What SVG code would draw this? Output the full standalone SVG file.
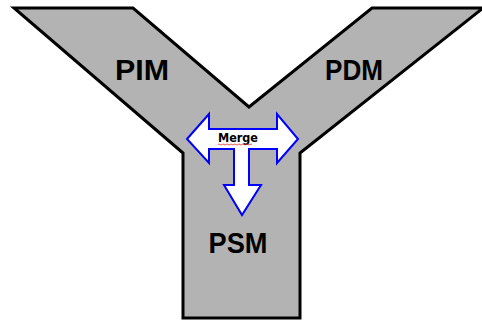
<svg xmlns="http://www.w3.org/2000/svg" width="482" height="320" viewBox="0 0 482 320">
<style>
.lbl{font-family:"Liberation Sans","DejaVu Sans",sans-serif;font-weight:bold;font-size:30px;fill:#000;text-anchor:middle}
.m{font-family:"DejaVu Sans",sans-serif;font-weight:bold;font-size:12.5px;fill:#000;text-anchor:middle}
</style>
<rect width="482" height="320" fill="#ffffff"/>
<g id="y-shape">
<polygon points="14,8 133,8 249,107 372,8 483,8 300,153 300,318 183,318 183,153" fill="#b3b3b3" stroke="#000" stroke-width="3" stroke-linejoin="miter"/>
</g>
<g id="pim"><text class="lbl" x="142" y="80" textLength="54" lengthAdjust="spacingAndGlyphs">PIM</text></g>
<g id="pdm"><text class="lbl" x="354" y="80" textLength="58" lengthAdjust="spacingAndGlyphs">PDM</text></g>
<g id="psm"><text class="lbl" x="238" y="253" textLength="59" lengthAdjust="spacingAndGlyphs">PSM</text></g>
<g id="connectors">
<g id="merge-arrow">
<polygon points="187,139 209,114 209,129 277,129 277,114 298,139 277,163 277,149 249,149 249,185 261,185 242,215 224,185 234,185 234,149 209,149 209,163" fill="#ffffff" stroke="#0000ff" stroke-width="2" stroke-linejoin="miter"/>
<text class="m" x="238" y="142" textLength="40" lengthAdjust="spacingAndGlyphs">Merge</text>
<path d="M218,144.5 q1,-1 2,0 t2,0 t2,0 t2,0 t2,0 t2,0 t2,0 t2,0 t2,0 t2,0 t2,0 t2,0 t2,0 t2,0 t2,0 t2,0 t2,0" fill="none" stroke="#e03030" stroke-width="0.8"/>
</g>
</g>
</svg>
